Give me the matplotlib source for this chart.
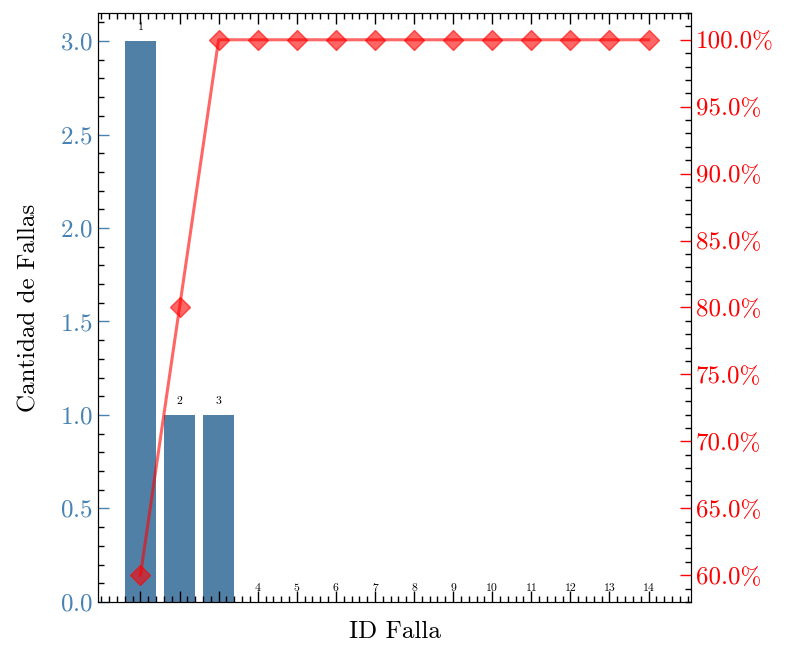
import numpy as np
import matplotlib
matplotlib.use("Agg")
import matplotlib.pyplot as plt
from matplotlib.ticker import AutoMinorLocator, MultipleLocator, PercentFormatter

plt.rcParams["font.family"] = "serif"
plt.rcParams["font.serif"] = ["cmr10"]
plt.rcParams["mathtext.fontset"] = "cm"
plt.rcParams["axes.formatter.use_mathtext"] = True
plt.rcParams["axes.unicode_minus"] = False

# datos del pareto
ids_falla = ["1", "2", "3", "4", "5", "6", "7", "8", "9", "10", "11", "12", "13", "14"]
cantidad = [3, 1, 1, 0, 0, 0, 0, 0, 0, 0, 0, 0, 0, 0]
acumulado = [60, 80, 100, 100, 100, 100, 100, 100, 100, 100, 100, 100, 100, 100]

bar_color = "#5180a6"
left_color = "steelblue"

fig, ax = plt.subplots(figsize=(7.89, 6.5), dpi=100)
fig.subplots_adjust(left=0.124, right=0.876, top=0.98, bottom=0.074)

x = np.arange(len(ids_falla))
ax.bar(x, cantidad, width=0.8, color=bar_color)
for xi, h, lab in zip(x, cantidad, ids_falla):
    ax.text(xi, h + 0.05, lab, ha="center", va="bottom", fontsize=8.5)

ax.set_xticks(x)
ax.set_xticklabels([])
ax.xaxis.set_minor_locator(AutoMinorLocator(5))
ax.yaxis.set_major_locator(MultipleLocator(0.5))
ax.yaxis.set_minor_locator(AutoMinorLocator(5))
ax.tick_params(which="both", direction="in", top=True, right=False)
ax.tick_params(which="major", length=8, width=1)
ax.tick_params(which="minor", length=4, width=1)
ax.tick_params(axis="y", which="major", colors=left_color, labelsize=18)
ax.set_xlabel("ID Falla", fontsize=18, labelpad=10)
ax.set_ylabel("Cantidad de Fallas", fontsize=18, labelpad=14)

ax2 = ax.twinx()
ax2.plot(x, acumulado, color="red", marker="D", markersize=10.5, linewidth=2.2, alpha=0.6)
ax2.yaxis.set_major_formatter(PercentFormatter(decimals=1))
ax2.yaxis.set_major_locator(MultipleLocator(5))
ax2.yaxis.set_minor_locator(AutoMinorLocator(5))
ax2.tick_params(which="both", direction="in")
ax2.tick_params(which="major", length=8, width=1)
ax2.tick_params(which="minor", length=4, width=1)
ax2.tick_params(axis="y", which="major", colors="red", labelsize=18)

fig.savefig("out.png", dpi=100)
